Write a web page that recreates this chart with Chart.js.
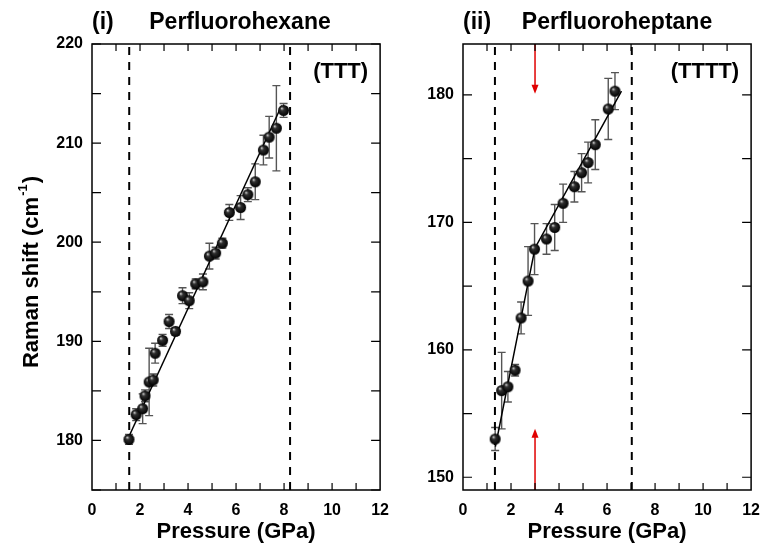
<!DOCTYPE html>
<html>
<head>
<meta charset="utf-8">
<script src="https://cdn.jsdelivr.net/npm/chart.js@4"></script>
<style>
body { margin: 0; background: #fff; }
.panel { position: absolute; top: 0; width: 400px; height: 545px; }
</style>
</head>
<body>
<div class="panel" style="left:0"><canvas id="hexChart" width="400" height="545"></canvas></div>
<div class="panel" style="left:371px"><canvas id="hepChart" width="400" height="545"></canvas></div>
<script>
// (i) perfluorohexane
const hexPressure = [1.54, 1.84, 2.11, 2.21, 2.38, 2.55, 2.63, 2.94, 3.21, 3.48, 3.77, 4.05, 4.32, 4.62, 4.89, 5.15, 5.43, 5.72, 6.19, 6.49, 6.80, 7.14, 7.38, 7.68, 7.98];
const hexShift = [180.1, 182.6, 183.2, 184.5, 185.9, 186.1, 188.8, 190.1, 192.0, 191.0, 194.6, 194.1, 195.8, 196.0, 198.6, 198.9, 199.9, 203.0, 203.5, 204.8, 206.1, 209.3, 210.6, 211.5, 213.3];
const hexErr = [0.5, 0.6, 1.5, 0.6, 3.4, 0.6, 1.0, 0.6, 0.7, 0.4, 0.8, 0.8, 0.5, 0.8, 1.3, 0.6, 0.5, 0.8, 1.2, 0.7, 1.8, 1.5, 2.1, 4.3, 0.7];
const hexFitP = [1.5, 7.9];
const hexFitShift = [180.2, 213.8];
const hexBounds = [1.55, 8.25];
const hexYTicks = [180, 190, 200, 210, 220];

// (ii) perfluoroheptane
const hepPressure = [1.34, 1.61, 1.87, 2.17, 2.42, 2.71, 2.98, 3.48, 3.82, 4.17, 4.64, 4.94, 5.21, 5.51, 6.05, 6.33];
const hepShift = [153.0, 156.8, 157.1, 158.4, 162.5, 165.4, 167.9, 168.7, 169.6, 171.5, 172.8, 173.9, 174.7, 176.1, 178.9, 180.3];
const hepErr = [0.9, 3.0, 1.2, 0.45, 1.25, 2.7, 2.0, 1.2, 1.8, 1.5, 1.2, 1.5, 1.6, 1.95, 2.4, 1.45];
const hepFitP = [1.35, 3.0, 6.6];
const hepFitShift = [152.4, 168.0, 180.3];
const hepBounds = [1.33, 7.03];
const hepYTicks = [150, 160, 170, 180];
const hepArrowP = 3.0;
const hepArrowTips = [180.1, 153.8];

const pressureTicks = [0, 2, 4, 6, 8, 10, 12];

const FONT = '"Liberation Sans", Arial, sans-serif';

// little black sphere used as the marker
function ball(r) {
    var c = document.createElement('canvas');
    c.width = c.height = 2 * r + 2;
    var g = c.getContext('2d');
    var m = r + 1;
    var grd = g.createRadialGradient(m - r * 0.35, m - r * 0.4, 0.3, m, m, r);
    grd.addColorStop(0, '#d0d0d0');
    grd.addColorStop(0.3, '#303030');
    grd.addColorStop(1, '#000');
    g.fillStyle = grd;
    g.beginPath();
    g.arc(m, m, r, 0, Math.PI * 2);
    g.fill();
    return c;
}
const marker = ball(5.5);

function pts(xs, ys) {
    return xs.map((x, i) => ({ x: x, y: ys[i] }));
}

const deco = {
    id: 'deco',
    beforeDatasetsDraw(chart) {
        const o = chart.options.plugins.deco;
        const ctx = chart.ctx, xs = chart.scales.x, ys = chart.scales.y;
        ctx.save();
        // error bars
        ctx.strokeStyle = '#555';
        ctx.lineWidth = 1.4;
        o.px.forEach((p, i) => {
            const X = xs.getPixelForValue(p);
            const y1 = ys.getPixelForValue(o.py[i] - o.err[i]);
            const y2 = ys.getPixelForValue(o.py[i] + o.err[i]);
            ctx.beginPath();
            ctx.moveTo(X, y1); ctx.lineTo(X, y2);
            ctx.moveTo(X - 4, y1); ctx.lineTo(X + 4, y1);
            ctx.moveTo(X - 4, y2); ctx.lineTo(X + 4, y2);
            ctx.stroke();
        });
        // red arrows
        if (o.arrowP !== undefined) {
            const X = xs.getPixelForValue(o.arrowP);
            const ends = [chart.chartArea.top, chart.chartArea.bottom];
            ctx.strokeStyle = '#e00000';
            ctx.fillStyle = '#e00000';
            ctx.lineWidth = 1.5;
            o.arrowTips.forEach((t, i) => {
                const tip = ys.getPixelForValue(t);
                const dir = tip > ends[i] ? 1 : -1;
                ctx.beginPath();
                ctx.moveTo(X, ends[i]);
                ctx.lineTo(X, tip - dir * 7);
                ctx.stroke();
                ctx.beginPath();
                ctx.moveTo(X, tip);
                ctx.lineTo(X - 3.5, tip - dir * 9);
                ctx.lineTo(X + 3.5, tip - dir * 9);
                ctx.closePath();
                ctx.fill();
            });
        }
        ctx.restore();
    },
    afterDraw(chart) {
        const o = chart.options.plugins.deco;
        const ctx = chart.ctx, xs = chart.scales.x, ys = chart.scales.y;
        const a = chart.chartArea;
        ctx.save();
        ctx.strokeStyle = '#000';
        ctx.lineWidth = 1.5;
        ctx.strokeRect(a.left, a.top, a.right - a.left, a.bottom - a.top);
        // inward ticks
        ctx.lineWidth = 1.2;
        ctx.beginPath();
        for (let v = 1; v < 12; v++) {
            const X = xs.getPixelForValue(v);
            ctx.moveTo(X, a.bottom); ctx.lineTo(X, a.bottom - 7);
            ctx.moveTo(X, a.top); ctx.lineTo(X, a.top + 7);
        }
        for (let v = Math.ceil(ys.min / 5) * 5; v <= ys.max; v += 5) {
            const Y = ys.getPixelForValue(v);
            ctx.moveTo(a.left, Y); ctx.lineTo(a.left + 9, Y);
            ctx.moveTo(a.right, Y); ctx.lineTo(a.right - 9, Y);
        }
        ctx.stroke();

        ctx.fillStyle = '#000';
        ctx.textBaseline = 'middle';
        ctx.font = 'bold 23px ' + FONT;
        ctx.textAlign = 'left';
        ctx.fillText(o.tag, a.left, 23);
        ctx.textAlign = 'center';
        ctx.fillText(o.title, o.titleX, 23);
        ctx.font = 'bold 22px ' + FONT;
        ctx.textAlign = 'right';
        ctx.fillText(o.conf, a.right - 12, 72);
        ctx.textAlign = 'center';
        ctx.fillText('Pressure (GPa)', (a.left + a.right) / 2, 532);

        if (o.yTitle) {
            ctx.save();
            ctx.translate(32, 272);
            ctx.rotate(-Math.PI / 2);
            ctx.textAlign = 'left';
            const t1 = 'Raman shift (cm', t2 = '-1', t3 = ')';
            ctx.font = 'bold 22px ' + FONT;
            const w1 = ctx.measureText(t1).width, w3 = ctx.measureText(t3).width;
            ctx.font = 'bold 13px ' + FONT;
            const w2 = ctx.measureText(t2).width;
            let x0 = -(w1 + w2 + w3 + 2) / 2;
            ctx.font = 'bold 22px ' + FONT;
            ctx.fillText(t1, x0, 0);
            ctx.font = 'bold 13px ' + FONT;
            ctx.fillText(t2, x0 + w1 + 1, -9);
            ctx.font = 'bold 22px ' + FONT;
            ctx.fillText(t3, x0 + w1 + w2 + 2, 0);
            ctx.restore();
        }
        ctx.restore();
    }
};

function makePanel(id, px, py, err, fitP, fitY, bounds, yMin, yMax, yTicks, extra) {
    const datasets = [
        {
            type: 'scatter', data: pts(fitP, fitY), showLine: true,
            borderColor: '#000', borderWidth: 1.5, pointRadius: 0, order: 2
        },
        {
            type: 'scatter', data: pts(px, py), pointStyle: marker,
            pointRadius: 5.5, order: 1
        }
    ];
    bounds.forEach(b => {
        datasets.push({
            type: 'scatter', data: pts([b, b], [yMin, yMax]), showLine: true,
            borderColor: '#000', borderWidth: 2, borderDash: [8, 7],
            pointRadius: 0, order: 3
        });
    });
    new Chart(id, {
        type: 'scatter',
        data: { datasets: datasets },
        options: {
            responsive: false,
            animation: false,
            layout: { padding: { left: 0, right: 12, top: 44, bottom: 0 } },
            plugins: {
                legend: { display: false },
                tooltip: { enabled: false },
                deco: Object.assign({ px: px, py: py, err: err }, extra)
            },
            scales: {
                x: {
                    type: 'linear', min: 0, max: 12,
                    grid: { display: false, drawTicks: false, tickLength: 0 },
                    border: { display: false },
                    afterBuildTicks: s => { s.ticks = pressureTicks.map(v => ({ value: v })); },
                    ticks: {
                        autoSkip: false, maxRotation: 0, padding: 11,
                        color: '#000', font: { family: FONT, size: 16, weight: 'bold' }
                    },
                    afterFit: s => { s.height = 55; }
                },
                y: {
                    type: 'linear', min: yMin, max: yMax,
                    grid: { display: false, drawTicks: false, tickLength: 0 },
                    border: { display: false },
                    afterBuildTicks: s => { s.ticks = yTicks.map(v => ({ value: v })); },
                    ticks: {
                        autoSkip: false, padding: 9,
                        color: '#000', font: { family: FONT, size: 16, weight: 'bold' }
                    },
                    afterFit: s => { s.width = 92; }
                }
            }
        },
        plugins: [deco]
    });
}

makePanel('hexChart', hexPressure, hexShift, hexErr, hexFitP, hexFitShift, hexBounds, 175, 220, hexYTicks,
    { tag: '(i)', title: 'Perfluorohexane', titleX: 240, conf: '(TTT)', yTitle: true });
makePanel('hepChart', hepPressure, hepShift, hepErr, hepFitP, hepFitShift, hepBounds, 149, 184, hepYTicks,
    { tag: '(ii)', title: 'Perfluoroheptane', titleX: 246, conf: '(TTTT)', yTitle: false,
      arrowP: hepArrowP, arrowTips: hepArrowTips });
</script>
</body>
</html>
